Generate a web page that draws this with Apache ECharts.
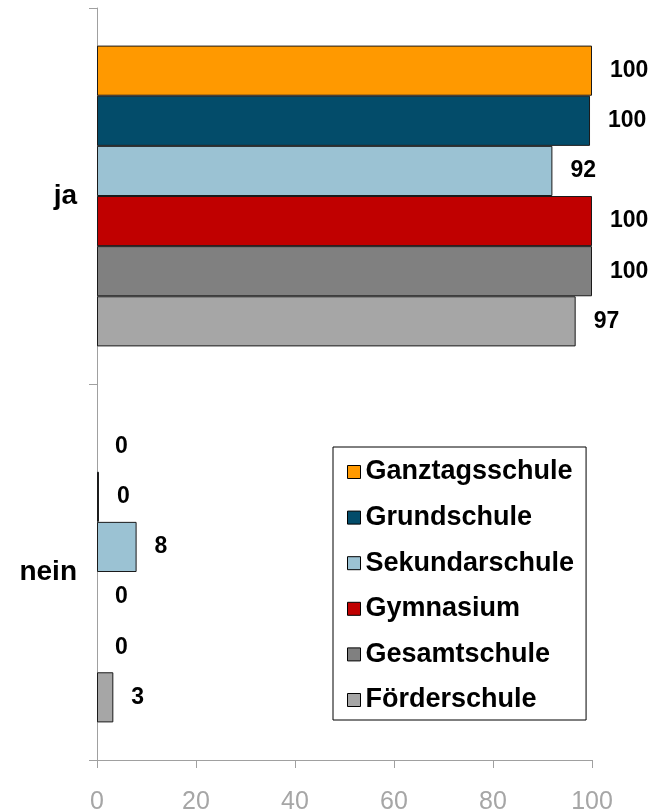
<!DOCTYPE html>
<html>
<head>
<meta charset="utf-8">
<title>ja / nein</title>
<script src="https://cdn.jsdelivr.net/npm/echarts@6/dist/echarts.min.js"></script>
<style>
	html, body { margin: 0; padding: 0; background: #fff; }
	#report_1 { width: 654px; height: 811px; }
</style>
</head>
<body>
<div id="report_1"></div>
<script>
// categories (top to bottom)
var categories = ['ja', 'nein'];
// school types, in legend order
var schulen = ['Ganztagsschule', 'Grundschule', 'Sekundarschule', 'Gymnasium', 'Gesamtschule', 'Förderschule'];
var colors = ['#FF9900', '#034C6A', '#9BC2D3', '#C00000', '#808080', '#A6A6A6'];
// values per school: [ja, nein] in percent
var ganztag = [100, 0];
var grund = [99.6, 0.4];
var sekundar = [92, 8];
var gymnasium = [100, 0];
var gesamt = [100, 0];
var foerder = [96.7, 3.3];
var xTicks = [0, 20, 40, 60, 80, 100];

var values = [ganztag, grund, sekundar, gymnasium, gesamt, foerder];

function reportJaNein(id) {
	var series = [];
	for (var i = 0; i < schulen.length; i++) {
		// no outline on empty bars
		var data = values[i].map(function(v) {
			return v === 0 ? { value : v, itemStyle : { borderWidth : 0 } } : v;
		});
		series.push({
			name : schulen[i],
			type : 'bar',
			barGap : '0%',
			barCategoryGap : '20%',
			itemStyle : {
				color : colors[i],
				borderColor : '#1a1a1a',
				borderWidth : 1
			},
			label : {
				show : true,
				position : 'right',
				distance : 18,
				color : '#000',
				fontSize : 23,
				fontWeight : 'bold',
				fontFamily : 'Liberation Sans, Arial, sans-serif',
				formatter : function(p) {
					return Math.round(p.value);
				}
			},
			data : data
		});
	}
	var option = {
		animation : false,
		color : colors,
		grid : {
			left : 97,
			right : 62,
			top : 8,
			bottom : 51,
			outerBoundsMode : 'none'
		},
		legend : {
			orient : 'vertical',
			left : 333,
			top : 447,
			padding : [11.5, 12, 6.5, 14],
			itemGap : 18.6,
			itemWidth : 13,
			itemHeight : 13,
			icon : 'rect',
			borderColor : '#000',
			borderWidth : 1,
			itemStyle : {
				borderColor : '#000',
				borderWidth : 1
			},
			textStyle : {
				color : '#000',
				fontSize : 27,
				lineHeight : 27,
				fontWeight : 'bold',
				fontFamily : 'Liberation Sans, Arial, sans-serif'
			},
			data : schulen
		},
		xAxis : {
			type : 'value',
			min : xTicks[0],
			max : xTicks[xTicks.length - 1],
			interval : 20,
			axisLine : { show : true, lineStyle : { color : '#A0A0A0', width : 1 } },
			axisTick : { show : true, length : 8, lineStyle : { color : '#A0A0A0' } },
			splitLine : { show : false },
			axisLabel : {
				margin : 30,
				color : '#A6A6A6',
				fontSize : 25,
				fontFamily : 'Liberation Sans, Arial, sans-serif'
			}
		},
		yAxis : {
			type : 'category',
			inverse : true,
			data : categories,
			axisLine : { show : true, lineStyle : { color : '#A0A0A0', width : 1 } },
			axisTick : { show : true, length : 8, lineStyle : { color : '#A0A0A0' } },
			axisLabel : {
				margin : 20,
				color : '#000',
				fontSize : 28,
				fontWeight : 'bold',
				fontFamily : 'Liberation Sans, Arial, sans-serif'
			}
		},
		series : series
	};
	var dom = document.getElementById(id);
	var myChart = echarts.init(dom);
	myChart.setOption(option, true);
}

reportJaNein('report_1');
</script>
</body>
</html>
